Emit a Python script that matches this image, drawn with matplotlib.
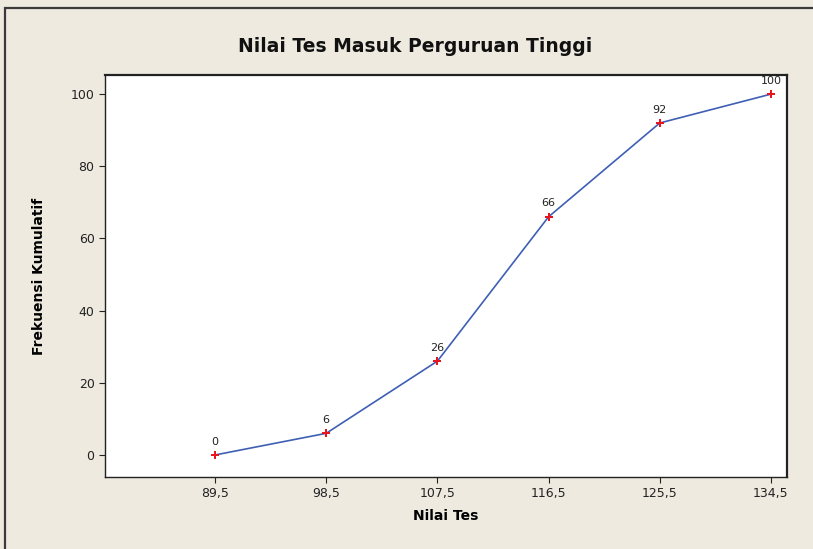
import matplotlib
matplotlib.use("Agg")
import matplotlib.pyplot as plt
from matplotlib.patches import Rectangle

# data: batas kelas (tepi atas) dan frekuensi kumulatif
nilai = [89.5, 98.5, 107.5, 116.5, 125.5, 134.5]
frek_kum = [0, 6, 26, 66, 92, 100]
xtick_lbl = ["89,5", "98,5", "107,5", "116,5", "125,5", "134,5"]
yticks = [0, 20, 40, 60, 80, 100]

BG = "#EEEAE0"
LINE = "#3F5FB5"
MARK = "#E8141E"

plt.rcParams["font.family"] = ["DejaVu Sans"]
fig = plt.figure(figsize=(8.13, 5.49), dpi=100)
fig.patch.set_facecolor(BG)

# bingkai luar (tepi kanan/bawah terpotong)
fig.patches.append(Rectangle((5/813, -0.1), 1.2, 1 - 8/549 + 0.1, transform=fig.transFigure,
                             fill=False, edgecolor="#3a3a3a", lw=1.6))

ax = fig.add_axes([105/813, 1 - 477/549, (787 - 105)/813, (477 - 75)/549])
ax.set_facecolor("white")
ax.plot(nilai, frek_kum, "-", color=LINE, lw=1.2, zorder=2)
ax.plot(nilai, frek_kum, "P", color=MARK, ms=6, mew=0, zorder=3)
for x, y in zip(nilai, frek_kum):
    ax.annotate(str(y), (x, y), textcoords="offset points", xytext=(0, 6),
                ha="center", va="bottom", fontsize=8, color="#222222")

ax.set_xlim(80.6, 135.8)
ax.set_ylim(-6.1, 105.3)
ax.set_xticks(nilai)
ax.set_xticklabels(xtick_lbl, fontsize=9)
ax.set_yticks(yticks)
ax.set_yticklabels([str(v) for v in yticks], fontsize=9)
for s in ax.spines.values():
    s.set_color("#222222")
    s.set_linewidth(1.0)
ax.spines["right"].set_linewidth(1.6)
ax.spines["top"].set_linewidth(1.6)
ax.tick_params(length=4, width=0.8, colors="#222222")

ax.set_xlabel("Nilai Tes", fontsize=10, weight="bold", labelpad=6)
ax.set_ylabel("Frekuensi Kumulatif", fontsize=10, weight="bold", labelpad=18)
fig.text(415/813, 1 - 46/549, "Nilai Tes Masuk Perguruan Tinggi", ha="center", va="center",
         fontsize=13.5, weight="bold", color="#111111")

fig.savefig("out.png", facecolor=BG)
